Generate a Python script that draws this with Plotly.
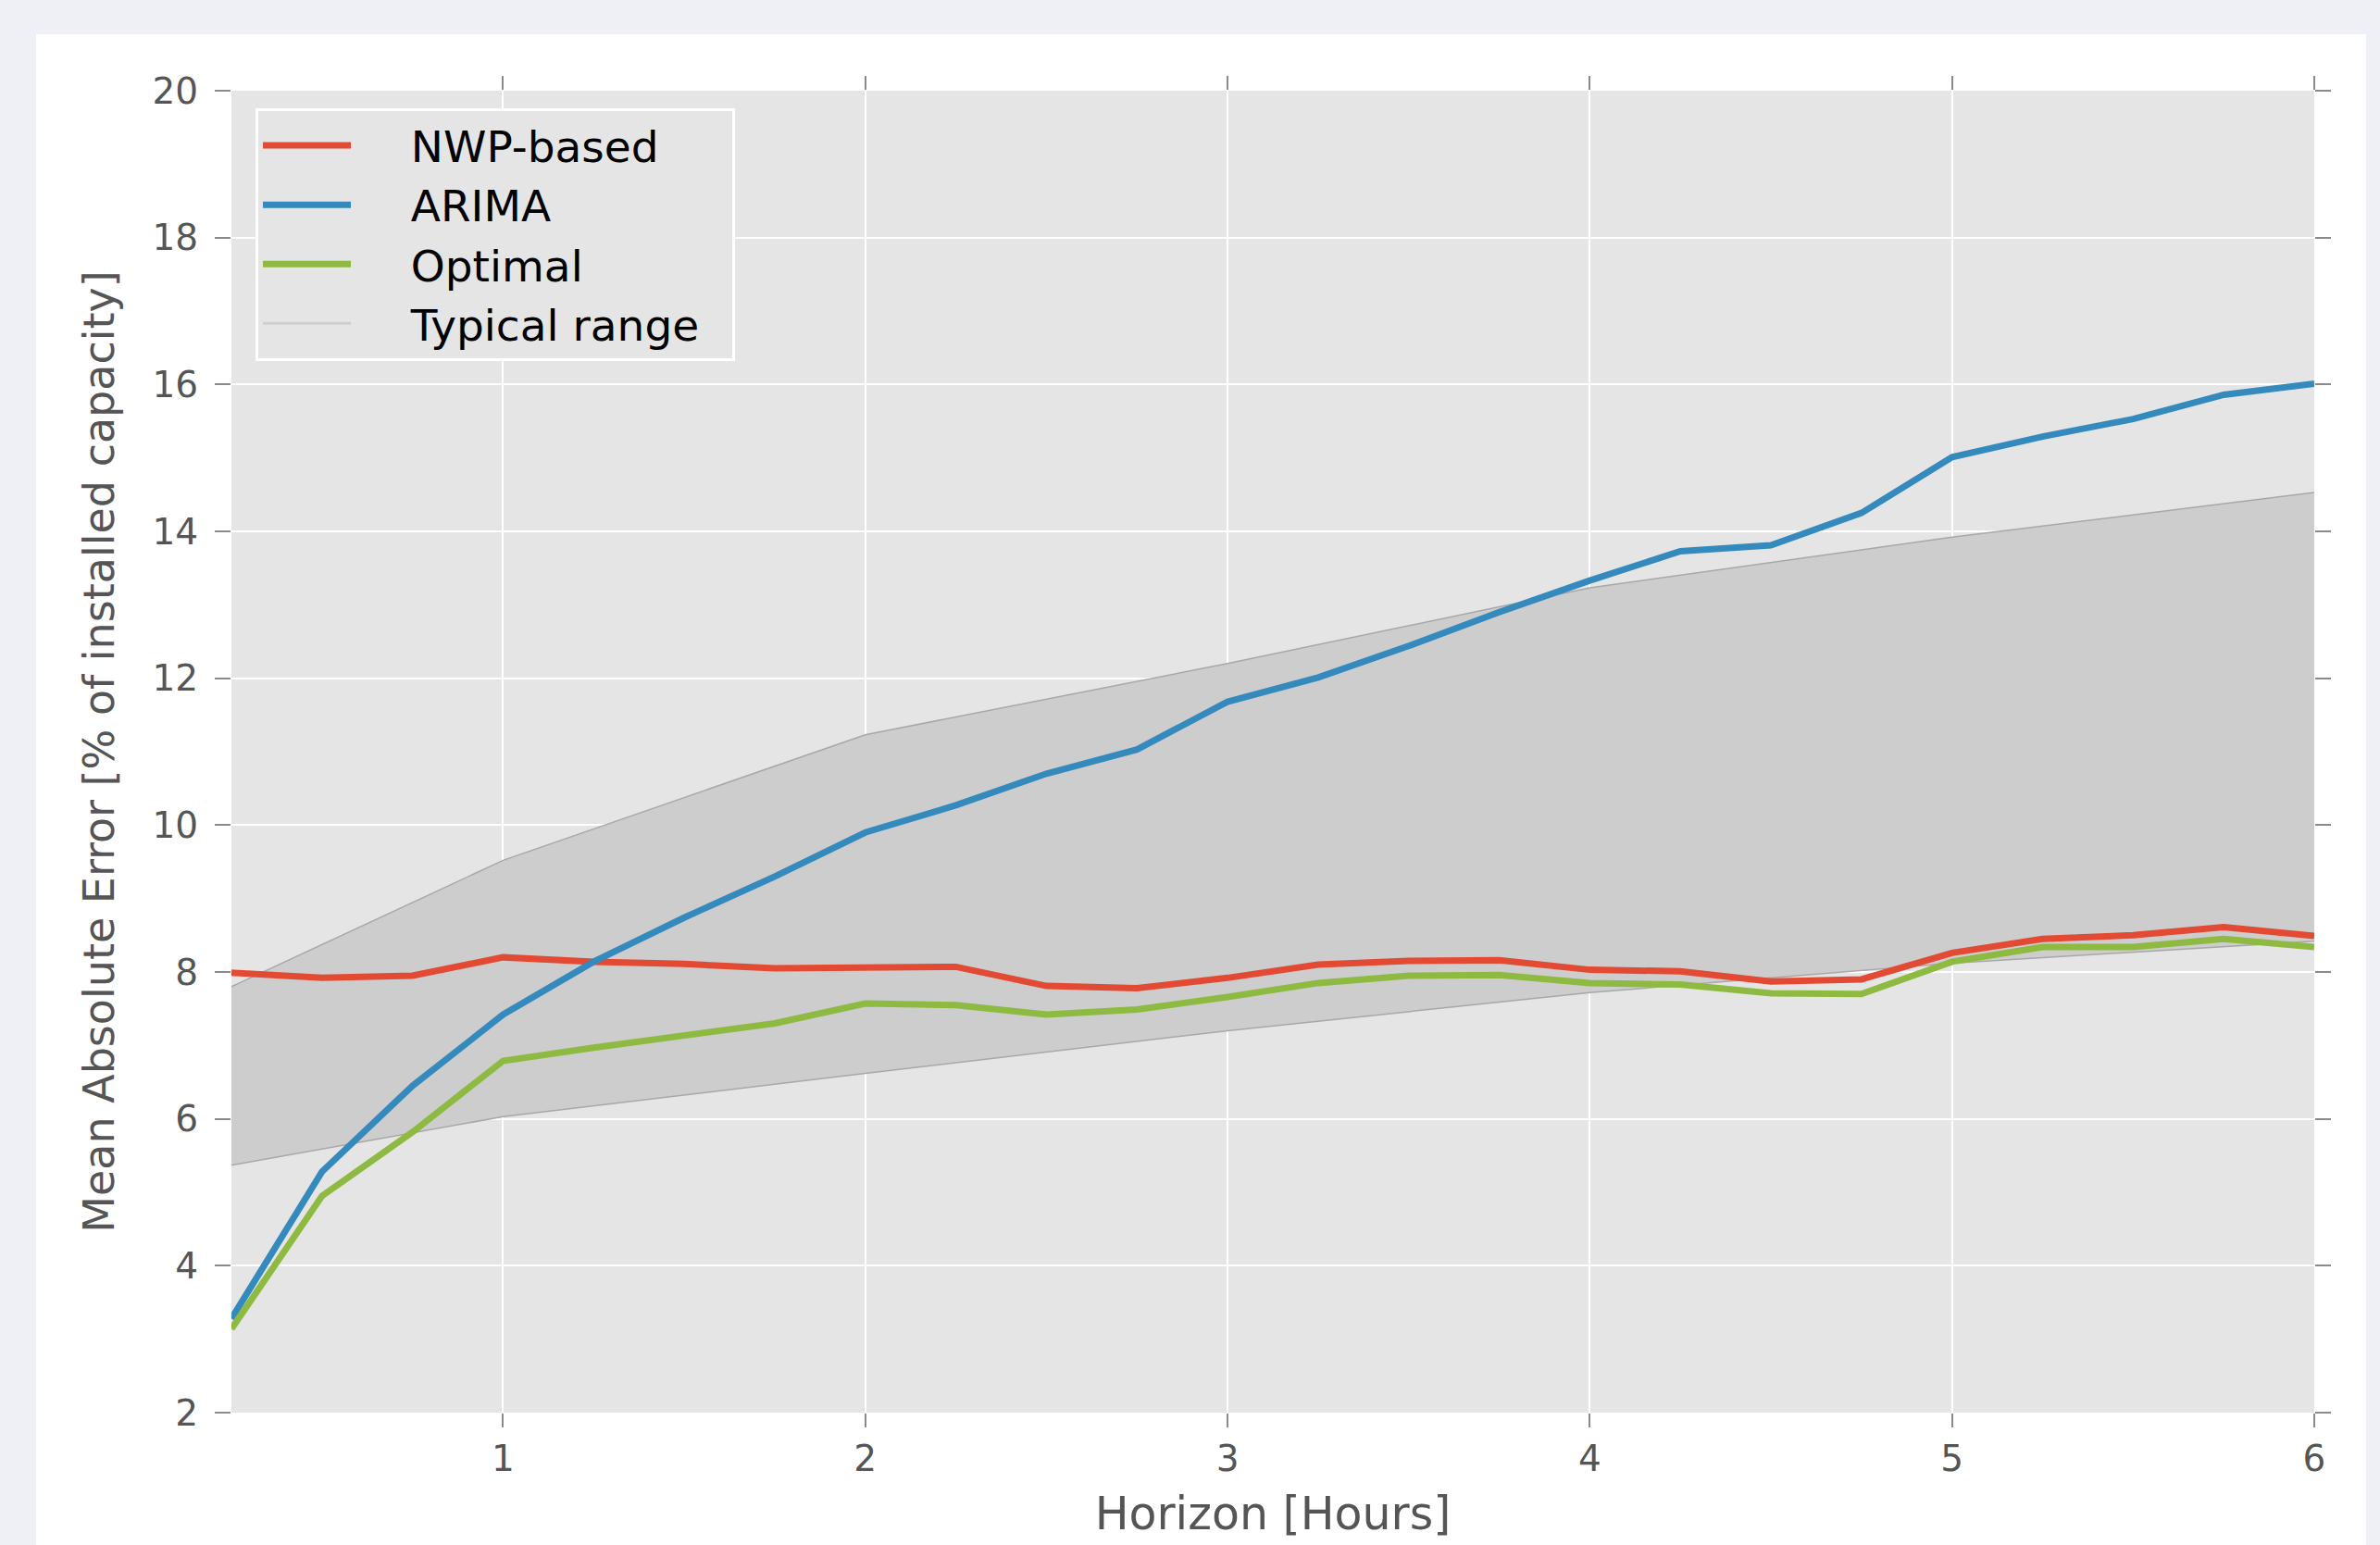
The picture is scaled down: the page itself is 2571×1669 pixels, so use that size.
import plotly.graph_objects as go

# ---- data ----
horizon = [0.25, 0.5, 0.75, 1.0, 1.25, 1.5, 1.75, 2.0, 2.25, 2.5, 2.75, 3.0,
           3.25, 3.5, 3.75, 4.0, 4.25, 4.5, 4.75, 5.0, 5.25, 5.5, 5.75, 6.0]

nwp = [7.99, 7.92, 7.95, 8.20, 8.14, 8.11, 8.05, 8.07, 8.07, 7.81, 7.78, 7.92,
       8.10, 8.15, 8.16, 8.03, 8.01, 7.87, 7.90, 8.26, 8.45, 8.50, 8.61, 8.49]

arima = [3.28, 5.28, 6.45, 7.42, 8.14, 8.74, 9.30, 9.90, 10.27, 10.70, 11.03, 11.68,
         12.01, 12.44, 12.90, 13.33, 13.73, 13.81, 14.25, 15.01, 15.29, 15.53, 15.86, 16.01]

optimal = [3.14, 4.95, 5.82, 6.79, 6.97, 7.13, 7.30, 7.57, 7.55, 7.42, 7.49, 7.66,
           7.85, 7.95, 7.96, 7.85, 7.83, 7.71, 7.70, 8.14, 8.34, 8.34, 8.45, 8.34]

band_x = [0.25, 1, 2, 3, 4, 5, 6]
band_upper = [7.80, 9.52, 11.23, 12.20, 13.23, 13.92, 14.53]
band_lower = [5.37, 6.03, 6.62, 7.20, 7.72, 8.12, 8.42]

x_ticks = [1, 2, 3, 4, 5, 6]
y_ticks = [2, 4, 6, 8, 10, 12, 14, 16, 18, 20]

names = ["NWP-based", "ARIMA", "Optimal", "Typical range"]
colors = ["#E24A33", "#348ABD", "#8EBA42", "#cfcfcf"]

FONT = "DejaVu Sans"
PAD = "\u00a0" * 4
TAIL = "\u00a0" * 2

fig = go.Figure()

# typical range band
fig.add_trace(go.Scatter(x=band_x, y=band_lower, mode="lines",
                         line=dict(color="#a8a8a8", width=1.5),
                         showlegend=False, hoverinfo="skip"))
fig.add_trace(go.Scatter(x=band_x, y=band_upper, mode="lines", fill="tonexty",
                         fillcolor="#cdcdcd",
                         line=dict(color="#a8a8a8", width=1.5),
                         showlegend=False, hoverinfo="skip"))

for nm, ys, col, rk in [(names[0], nwp, colors[0], 1),
                        (names[1], arima, colors[1], 2),
                        (names[2], optimal, colors[2], 3)]:
    fig.add_trace(go.Scatter(x=horizon, y=ys, mode="lines", name=PAD + nm + TAIL,
                             line=dict(color=col, width=7), legendrank=rk))

# legend entry for the band
fig.add_trace(go.Scatter(x=[None], y=[None], mode="lines", name=PAD + names[3] + TAIL,
                         line=dict(color=colors[3], width=3), legendrank=4))

W, H = 2571, 1669
L, R, T, B = 250, 71, 98, 143

def px2paper_x(px):
    return (px - L) / (W - L - R)

def py2paper_y(py):
    return (H - B - py) / (H - T - B)

BG = "#eef0f5"
# outer light strips around the white panel
fig.add_shape(type="rect", xref="paper", yref="paper",
              x0=px2paper_x(-5), x1=px2paper_x(39), y0=py2paper_y(H + 5), y1=py2paper_y(-5),
              fillcolor=BG, line=dict(width=0), layer="below")
fig.add_shape(type="rect", xref="paper", yref="paper",
              x0=px2paper_x(-5), x1=px2paper_x(W + 5), y0=py2paper_y(37), y1=py2paper_y(-5),
              fillcolor=BG, line=dict(width=0), layer="below")
fig.add_shape(type="rect", xref="paper", yref="paper",
              x0=px2paper_x(2556), x1=px2paper_x(W + 5), y0=py2paper_y(H + 5), y1=py2paper_y(-5),
              fillcolor=BG, line=dict(width=0), layer="below")

axis_common = dict(
    showgrid=True, gridcolor="white", gridwidth=2,
    zeroline=False, showline=False,
    ticks="outside", tickwidth=2, tickcolor="#8a8a8a",
    mirror="ticks",
    tickfont=dict(family=FONT, size=39, color="#555555"),
)

fig.update_xaxes(range=[0.25, 6], tickvals=x_ticks, ticktext=[str(v) for v in x_ticks],
                 ticklen=15, ticklabelstandoff=0,
                 title=dict(text="Horizon [Hours]", standoff=20,
                            font=dict(family=FONT, size=49, color="#555555")),
                 **axis_common)
fig.update_yaxes(range=[2, 20], tickvals=y_ticks, ticktext=[str(v) for v in y_ticks],
                 ticklen=17, ticklabelstandoff=10,
                 title=dict(text="Mean Absolute Error [% of installed capacity]", standoff=26,
                            font=dict(family=FONT, size=46, color="#555555")),
                 **axis_common)

fig.update_layout(
    width=W, height=H,
    margin=dict(l=L, r=R, t=T, b=B, autoexpand=False),
    paper_bgcolor="white",
    plot_bgcolor="#e5e5e5",
    font=dict(family=FONT),
    showlegend=True,
    legend=dict(
        x=px2paper_x(276), y=py2paper_y(117), xanchor="left", yanchor="top",
        bgcolor="#e5e5e5", bordercolor="white", borderwidth=3,
        font=dict(family=FONT, size=47, color="black"),
        itemwidth=95, traceorder="normal",
    ),
)

fig.write_html(
    "out.html",
    config={"displayModeBar": False},
    post_script="document.body.style.margin='0';document.body.style.background='%s';" % BG,
)
